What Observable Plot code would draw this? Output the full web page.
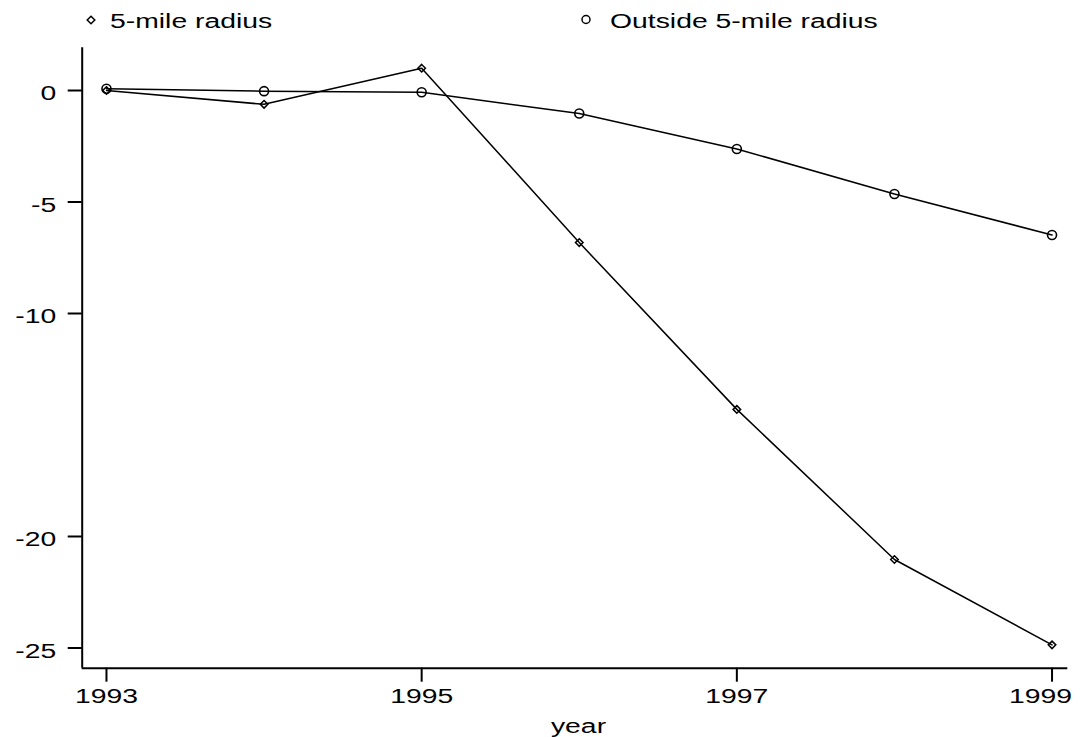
<!DOCTYPE html>
<html>
<head>
<meta charset="utf-8">
<script src="https://cdn.jsdelivr.net/npm/d3@7"></script>
<script src="https://cdn.jsdelivr.net/npm/@observablehq/plot@0.6"></script>
<style>
  html, body { margin: 0; padding: 0; background: #fff; }
  svg { display: block; }
  #legend text { font-family: "Liberation Sans", Arial, sans-serif; font-size: 21px; fill: #000; }
</style>
</head>
<body>
<svg id="legend" width="1081" height="40"></svg>
<div id="chart"></div>
<script>
// ---- data ----
const years = [1993, 1994, 1995, 1996, 1997, 1998, 1999];
const fiveMile = [0, -0.62, 1.0, -6.82, -14.3, -21.03, -24.86];
const outside = [0.08, -0.03, -0.08, -1.03, -2.62, -4.64, -6.48];
const seriesNames = ["5-mile radius", "Outside 5-mile radius"];
const xTicks = [1993, 1995, 1997, 1999];
const yTicks = [0, -5, -10, -20, -25];
const xLabel = "year";

// scale extents (axis lines run exactly along these)
const xDomain = [1992.846, 1999.1];
const yDomain = [-25.906, 1.915];

const table = years.flatMap((yr, i) => [
  {year: yr, value: fiveMile[i], series: seriesNames[0]},
  {year: yr, value: outside[i], series: seriesNames[1]}
]);

const S = 1.35; // horizontal stretch of the reference's lettering

// ---- legend (above the chart) ----
const lg = d3.select("#legend");
lg.append("path").attr("d", "M91,16.2 L94.8,20 L91,23.8 L87.2,20 Z")
  .attr("fill", "none").attr("stroke", "#000").attr("stroke-width", 1.5);
lg.append("text").attr("transform", `translate(110,28.3) scale(${S},1)`).text(seriesNames[0]);
lg.append("circle").attr("cx", 586).attr("cy", 19.5).attr("r", 4)
  .attr("fill", "none").attr("stroke", "#000").attr("stroke-width", 1.5);
lg.append("text").attr("transform", `translate(610,28.3) scale(${S},1)`).text(seriesNames[1]);

// ---- chart ----
const plot = Plot.plot({
  width: 1081,
  height: 697,
  marginTop: 7.3,
  marginBottom: 69.3,
  marginLeft: 81.7,
  marginRight: 13.7,
  style: {fontFamily: "'Liberation Sans', Arial, sans-serif", fontSize: "21px", color: "#000", background: "#fff", overflow: "visible"},
  x: {domain: xDomain},
  y: {domain: yDomain},
  marks: [
    Plot.ruleX([xDomain[0]], {stroke: "#000", strokeWidth: 2}),
    Plot.ruleY([yDomain[0]], {stroke: "#000", strokeWidth: 2}),
    Plot.axisY({ticks: yTicks, tickSize: 14, strokeWidth: 2, fill: "none", label: null, tickFormat: d => String(d)}),
    Plot.axisY({ticks: yTicks, tickSize: 14, tickPadding: 12, stroke: "none", dy: 3, fontSize: 21, label: null, tickFormat: d => String(d)}),
    Plot.axisX({ticks: xTicks, tickSize: 14, tickPadding: 6, strokeWidth: 2, fontSize: 21, label: null, tickFormat: d => String(d)}),
    Plot.line(table, {x: "year", y: "value", z: "series", stroke: "#000", strokeWidth: 1.5}),
    Plot.dot(table.filter(d => d.series === seriesNames[0]), {x: "year", y: "value", symbol: "diamond2", r: 3.4, stroke: "#000", strokeWidth: 1.5, fill: "none"}),
    Plot.dot(table.filter(d => d.series === seriesNames[1]), {x: "year", y: "value", symbol: "circle", r: 4.5, stroke: "#000", strokeWidth: 1.6, fill: "none"}),
    Plot.text([xLabel], {text: d => d, frameAnchor: "bottom", lineAnchor: "bottom", dy: 64.3, dx: 3.5, fontSize: 21})
  ]
});
document.getElementById("chart").append(plot);

// stretch lettering horizontally about each text's anchor point
plot.querySelectorAll("text").forEach(el => {
  const bb = el.getBBox();
  if (!bb.width) return;
  const anchor = getComputedStyle(el).textAnchor;
  const ax = anchor === "end" ? bb.x + bb.width : anchor === "middle" ? bb.x + bb.width / 2 : bb.x;
  const t = el.getAttribute("transform") || "";
  el.setAttribute("transform", `${t} translate(${ax},0) scale(${S},1) translate(${-ax},0)`);
});
// keep the last x tick label inside the picture, as in the reference
const svgLeft = plot.getBoundingClientRect().left;
plot.querySelectorAll("text").forEach(el => {
  const r = el.getBoundingClientRect();
  const right = r.right - svgLeft;
  if (right > 1072) {
    const t = el.getAttribute("transform") || "";
    el.setAttribute("transform", `translate(${1072 - right},0) ${t}`);
  }
});
</script>
</body>
</html>
